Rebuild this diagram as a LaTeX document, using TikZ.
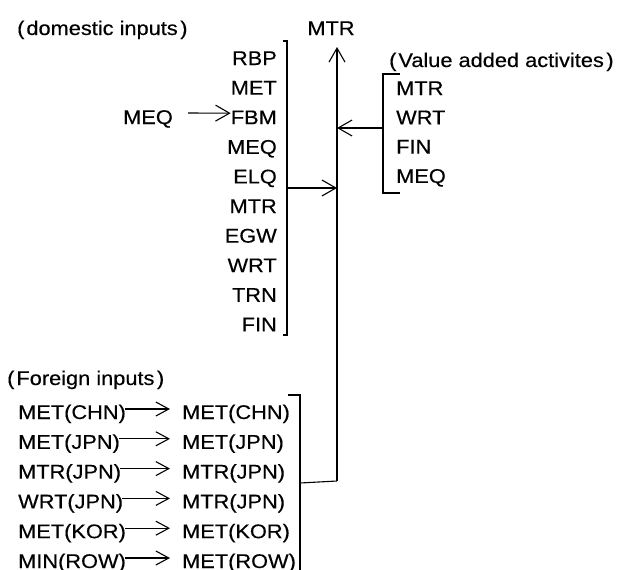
\documentclass[tikz,border=0pt]{standalone}
\usepackage{fontspec}
\setmainfont[FakeStretch=1.1,FakeBold=0.35]{Liberation Sans}
\usetikzlibrary{arrows.meta}
\begin{document}
\begin{tikzpicture}[x=1pt,y=-1pt,
  every node/.style={inner sep=0pt,font=\fontsize{19.8}{23}\selectfont},
  rlbl/.style={anchor=base east},
  llbl/.style={anchor=base west},
  wire/.style={line width=1.1pt},
  flow/.style={wire,-{Straight Barb[length=14pt,width=16pt,line width=1.1pt]}},
  small flow/.style={wire,-{Straight Barb[length=13pt,width=14pt,line width=1.1pt]}}]
\useasboundingbox (0,0) rectangle (627,570);

% headings
\node[llbl] (hdom) at (17,35) {(\kern2pt domestic inputs\kern2.5pt)};
\node[anchor=base] (mtr) at (331,35) {MTR};
\node[llbl] (hva) at (389,67) {(\kern2pt Value added activites\kern2.5pt)};
\node[llbl] (hfor) at (7,385) {(\kern2pt Foreign inputs\kern2.5pt)};

% domestic inputs, right aligned against their bracket
\foreach \t [count=\i] in {RBP,MET,FBM,MEQ,ELQ,MTR,EGW,WRT,TRN,FIN}
  \node[rlbl] (d\i) at (277,{65+29.6*(\i-1)}) {\t};
\node[llbl] (meq) at (123,124) {MEQ};
\draw[flow] ([shift={(15,-11)}]meq.base east) -- ([shift={(0,-11)}]d3.base west);

% value added activities
\foreach \t [count=\i] in {MTR,WRT,FIN,MEQ}
  \node[llbl] (v\i) at (396,{95+29.3*(\i-1)}) {\t};

% foreign inputs and their counterparts
\foreach \a/\b [count=\i] in {MET(CHN)/MET(CHN),MET(JPN)/MET(JPN),MTR(JPN)/MTR(JPN),
                              WRT(JPN)/MTR(JPN),MET(KOR)/MET(KOR),MIN(ROW)/MET(ROW)}{
  \node[llbl] (fl\i) at (18,{419+29.8*(\i-1)}) {\a};
  \node[llbl] (fr\i) at (182,{419+29.8*(\i-1)}) {\b};
  \draw[small flow] ([shift={(-1,-10)}]fl\i.base east) -- ([shift={(-12,-10)}]fr\i.base west);
}

% main collecting line
\coordinate (top) at (337,47);
\coordinate (bot) at (337,481);
\draw[flow] (bot) -- (top);

% bracket of domestic inputs
\coordinate (dmid) at (287,188);
\draw[wire] (283,41) -- (287,41) -- (287,335) -- (283,335);
\draw[flow] (dmid) -- (dmid -| top);

% bracket of value added activities
\coordinate (vmid) at (383,128);
\draw[wire] (400,74) -- (383,74) -- (383,193) -- (400,193);
\draw[flow] (vmid) -- (vmid -| top);

% bracket of foreign inputs
\coordinate (fmid) at (300,483);
\draw[wire] (288,395) -- (300,395) -- (300,575);
\draw[wire] (fmid) -- (bot);
\end{tikzpicture}
\end{document}
